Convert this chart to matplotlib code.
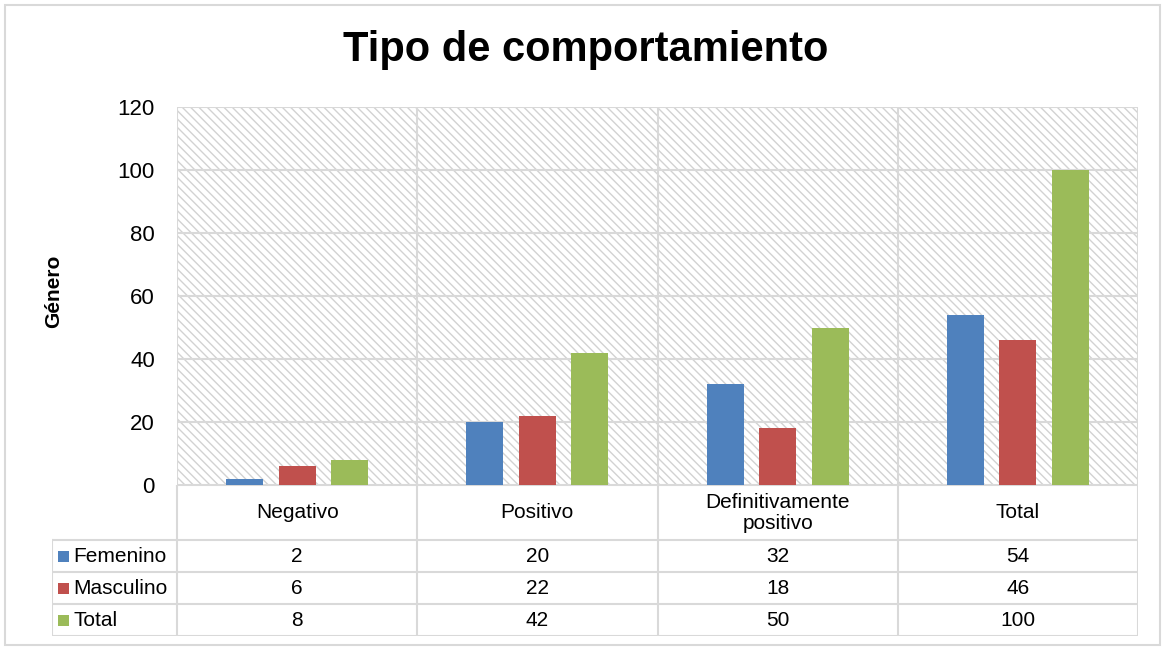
import matplotlib.pyplot as plt
from matplotlib.patches import Rectangle

plt.rcParams['font.family'] = ['Liberation Sans', 'DejaVu Sans']
plt.rcParams['hatch.linewidth'] = 1.0

categorias = ['Negativo', 'Positivo', 'Definitivamente\npositivo', 'Total']
series = ['Femenino', 'Masculino', 'Total']
femenino = [2, 20, 32, 54]
masculino = [6, 22, 18, 46]
total = [8, 42, 50, 100]
colores = ['#4F81BD', '#C0504D', '#9BBB59']
y_ticks = [0, 20, 40, 60, 80, 100, 120]

GRID = '#d9d9d9'
W, H = 1166, 648


def fx(px):
    return px / W


def fy(py):
    return 1 - py / H


fig = plt.figure(figsize=(W / 100, H / 100), dpi=100)

# borde del grafico
fig.patches.append(Rectangle((fx(5), fy(645)), fx(1155), (640) / H,
                             transform=fig.transFigure, fill=False,
                             edgecolor=GRID, lw=1.5))

# area del grafico
ax = fig.add_axes([fx(177), fy(485), fx(1138 - 177), (485 - 107) / H])
ax.set_facecolor('none')
ax.add_patch(Rectangle((0, 0), 1, 1, transform=ax.transAxes, facecolor='white',
                       edgecolor='#d2d2d2', hatch='\\\\\\\\', lw=0, zorder=0))

valores = [femenino, masculino, total]
offsets = [-0.219, 0, 0.219]
for vals, off, col, nombre in zip(valores, offsets, colores, series):
    ax.bar([i + off for i in range(len(categorias))], vals, width=0.154,
           color=col, label=nombre, zorder=3)

ax.set_xlim(-0.5, len(categorias) - 0.5)
ax.set_ylim(0, 120)
ax.set_yticks(y_ticks)
for t in y_ticks:
    ax.axhline(t, color=GRID, lw=1.5, zorder=1)
for i in range(len(categorias) + 1):
    ax.axvline(i - 0.5, color=GRID, lw=1.5, zorder=1)
ax.set_xticks([])
ax.tick_params(axis='y', length=0, labelsize=16, pad=16)
for s in ax.spines.values():
    s.set_visible(False)

fig.text(fx(586), fy(50), 'Tipo de comportamiento', fontsize=30,
         fontweight='bold', ha='center', va='center')
fig.text(fx(54), fy(291), 'Género', fontsize=15, fontweight='bold',
         rotation=90, ha='center', va='center')

# tabla de datos
tx = fig.add_axes([fx(52), fy(636), fx(1138 - 52), (636 - 485) / H])
x_left = -0.5 - 125 / 240.25
tx.set_xlim(x_left, len(categorias) - 0.5)
tx.set_ylim(151, 0)
tx.axis('off')

# lineas horizontales
tx.plot([-0.5, len(categorias) - 0.5], [0, 0], color=GRID, lw=1.5)
for yy in [55, 87, 119, 151]:
    tx.plot([x_left, len(categorias) - 0.5], [yy, yy], color=GRID, lw=1.5)
# lineas verticales
tx.plot([x_left, x_left], [55, 151], color=GRID, lw=1.5)
for i in range(len(categorias) + 1):
    tx.plot([i - 0.5, i - 0.5], [0, 151], color=GRID, lw=1.5)

for i, cat in enumerate(categorias):
    tx.text(i, 28, cat, fontsize=15, ha='center', va='center', linespacing=1.1)

for r, (nombre, vals, col) in enumerate(zip(series, valores, colores)):
    yc = 71 + 32 * r
    tx.add_patch(Rectangle((x_left + 6 / 240.25, yc - 5.5), 11 / 240.25, 11,
                           facecolor=col, lw=0))
    tx.text(x_left + 21 / 240.25, yc, nombre, fontsize=15, ha='left', va='center')
    for i, v in enumerate(vals):
        tx.text(i, yc, str(v), fontsize=15, ha='center', va='center')

fig.savefig('out.png', dpi=100)
